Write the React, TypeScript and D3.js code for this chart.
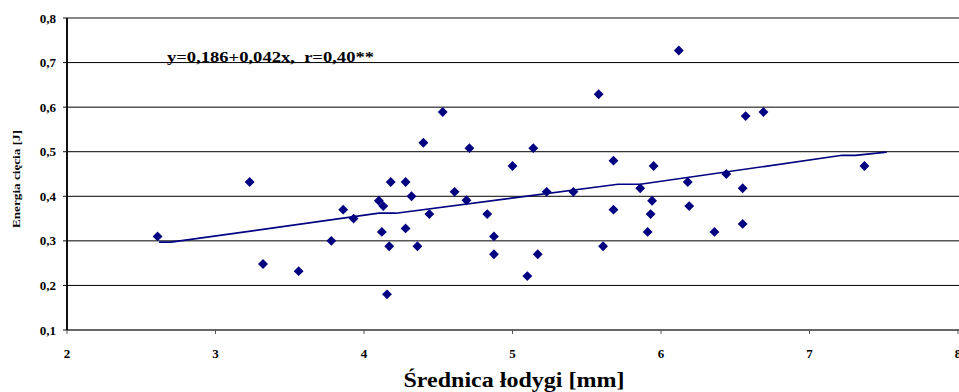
import React from "react";
import * as d3 from "d3";

const diameterMm = [2.61,3.23,3.32,3.56,3.78,3.86,3.93,4.10,4.13,4.12,4.17,4.155,4.18,4.28,4.32,4.28,4.36,4.40,4.44,4.53,4.61,4.71,4.69,4.83,4.875,4.875,5.0,5.14,5.10,5.17,5.23,5.41,5.58,5.68,5.68,5.61,5.86,5.94,5.95,6.12,6.18,5.93,5.91,6.19,6.36,6.44,6.55,6.55,6.57,6.69,7.37];
const energyJ = [0.31,0.432,0.248,0.232,0.30,0.37,0.35,0.39,0.378,0.32,0.288,0.18,0.432,0.432,0.40,0.328,0.288,0.52,0.36,0.589,0.41,0.508,0.391,0.36,0.31,0.27,0.468,0.508,0.221,0.27,0.41,0.41,0.629,0.48,0.37,0.288,0.418,0.39,0.468,0.727,0.432,0.36,0.32,0.378,0.32,0.45,0.418,0.338,0.58,0.589,0.468];

const trendX = [2.62,2.70,4.10,4.215,5.71,5.86,7.22,7.31,7.52];
const trendY = [0.297,0.297,0.362,0.362,0.427,0.427,0.492,0.492,0.499];

const xTicks = [2,3,4,5,6,7,8];
const yTicks = [0.1,0.2,0.3,0.4,0.5,0.6,0.7,0.8];

const equation = "y=0,186+0,042x,  r=0,40**";
const xTitle = "Średnica łodygi [mm]";
const yTitle = "Energia cięcia [J]";

const W = 959, H = 392;
const font = "'Liberation Serif', 'Times New Roman', serif";
const navy = "#000080";

export default function App() {
  const x = d3.scaleLinear().domain([2, 8]).range([67, 958]);
  const y = d3.scaleLinear().domain([0.1, 0.8]).range([330, 18]);
  const fmt = (v: number) => v.toFixed(1).replace(".", ",");
  const line = d3.line<number>().x((d) => x(d)).y((_, i) => y(trendY[i]));
  const diamond = d3.symbol().type(d3.symbolDiamond2).size(62)();

  return (
    <svg width={W} height={H} style={{ position: "absolute", left: 0, top: 0, background: "#fff" }}>
      <rect width={W} height={H} fill="#fff" />
      {yTicks.slice(1, -1).map((t) => (
        <line key={t} x1={x(2)} x2={W} y1={y(t)} y2={y(t)} stroke="#000" strokeWidth={1} />
      ))}
      <line x1={x(2)} x2={W} y1={y(0.8)} y2={y(0.8)} stroke="#888" strokeWidth={2} />
      <line x1={x(2)} x2={W} y1={y(0.1)} y2={y(0.1)} stroke="#666" strokeWidth={2} />
      <line x1={x(2)} x2={x(2)} y1={y(0.8)} y2={y(0.1)} stroke="#111" strokeWidth={2} />
      {yTicks.map((t) => (
        <g key={t}>
          <line x1={x(2) - 4} x2={x(2)} y1={y(t)} y2={y(t)} stroke="#111" strokeWidth={1} />
          <text x={56} y={y(t) + 4.5} textAnchor="end" fontFamily={font} fontWeight="bold" fontSize={13}>{fmt(t)}</text>
        </g>
      ))}
      {xTicks.map((t) => (
        <g key={t}>
          <line x1={x(t)} x2={x(t)} y1={y(0.1)} y2={y(0.1) + 4} stroke="#555" strokeWidth={1} />
          <text x={x(t)} y={358} textAnchor="middle" fontFamily={font} fontWeight="bold" fontSize={13}>{t}</text>
        </g>
      ))}
      <path d={line(trendX) || ""} fill="none" stroke={navy} strokeWidth={1.7} />
      {diameterMm.map((d, i) => (
        <path key={i} d={diamond || ""} transform={`translate(${x(d)},${y(energyJ[i])})`} fill={navy} />
      ))}
      <text x={167} y={62} fontFamily={font} fontWeight="bold" fontSize={15} textLength={207} lengthAdjust="spacingAndGlyphs" style={{ whiteSpace: "pre" }}>{equation}</text>
      <text x={514} y={387} textAnchor="middle" fontFamily={font} fontWeight="bold" fontSize={20} textLength={221} lengthAdjust="spacingAndGlyphs">{xTitle}</text>
      <text transform={`translate(20,179) rotate(-90)`} textAnchor="middle" fontFamily={font} fontWeight="bold" fontSize={11} textLength={98} lengthAdjust="spacingAndGlyphs">{yTitle}</text>
    </svg>
  );
}
